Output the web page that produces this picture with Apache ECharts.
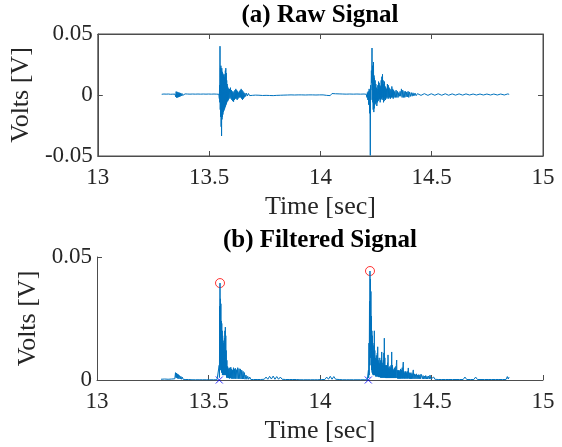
<!DOCTYPE html>
<html>
<head>
<meta charset="utf-8">
<title>Raw and Filtered Signal</title>
<script src="https://cdn.jsdelivr.net/npm/echarts@6/dist/echarts.min.js"></script>
<style>
  html, body { margin: 0; padding: 0; background: #fff; }
  #chart { width: 562px; height: 447px; }
</style>
</head>
<body>
<div id="chart"></div>
<script>
// axis ticks
const timeTicks = [13, 13.5, 14, 14.5, 15];
const rawTicks = [-0.05, 0, 0.05];
const filtTicks = [0, 0.05];

// (a) raw signal [time, volts]
const rawSignal = [
  [13.287,0.0006],[13.292,0.0001],[13.297,0.0008],[13.302,0.0002],[13.307,0.0007],[13.312,0.0000],[13.317,0.0008],[13.322,0.0002],
  [13.327,0.0006],[13.332,0.0001],[13.337,0.0007],[13.342,0.0000],[13.347,0.0007],
  [13.350,-0.0015],[13.352,0.0028],[13.354,-0.0022],[13.356,0.0026],[13.358,-0.002],[13.360,0.0022],[13.362,-0.0018],[13.364,0.002],
  [13.366,-0.0015],[13.368,0.0018],[13.370,-0.0012],[13.372,0.0015],[13.375,-0.0008],[13.378,0.0013],[13.381,-0.0004],[13.384,0.0011],
  [13.388,-0.0002],[13.392,0.0009],
  [13.397,0.0001],[13.402,0.0008],[13.408,0.0001],[13.414,0.0007],[13.420,0.0000],[13.426,0.0008],[13.432,0.0002],[13.438,0.0007],
  [13.444,0.0001],[13.450,0.0008],[13.456,0.0001],[13.462,0.0007],[13.468,0.0000],[13.474,0.0008],[13.480,0.0002],[13.486,0.0007],
  [13.492,0.0001],[13.498,0.0008],[13.504,0.0002],[13.510,0.0007],[13.516,0.0001],[13.522,0.0008],[13.528,0.0002],[13.534,0.0007],
  [13.540,0.0001],[13.544,0.0006],
  [13.546,-0.003],[13.547,0.008],[13.548,-0.006],[13.549,0.040],[13.550,-0.012],[13.551,0.022],[13.552,-0.018],[13.553,0.024],
  [13.554,-0.026],[13.555,0.020],[13.556,-0.0336],[13.557,0.022],[13.558,-0.020],[13.559,0.019],[13.560,-0.018],[13.561,0.018],
  [13.562,-0.016],[13.563,0.017],[13.564,-0.014],[13.565,0.016],[13.566,-0.013],[13.567,0.015],[13.568,-0.012],[13.569,0.014],
  [13.570,-0.011],[13.571,0.017],[13.572,-0.010],[13.573,0.020],[13.574,-0.009],[13.575,0.022],[13.576,-0.008],[13.577,0.018],
  [13.578,-0.007],[13.579,0.012],[13.580,-0.006],[13.581,0.009],[13.582,-0.005],[13.583,0.007],[13.584,-0.005],[13.585,0.006],
  [13.586,-0.004],[13.588,0.005],[13.590,-0.003],
  [13.592,0.005],[13.594,-0.002],[13.596,0.006],[13.598,-0.003],[13.600,0.004],[13.602,-0.004],[13.604,0.003],[13.606,-0.005],
  [13.608,0.002],[13.610,-0.0055],[13.612,0.003],[13.614,-0.004],[13.616,0.004],[13.618,-0.003],[13.620,0.005],[13.622,-0.003],
  [13.624,0.004],[13.626,-0.004],[13.628,0.003],[13.630,-0.003],[13.632,0.002],[13.634,-0.002],[13.636,0.003],[13.638,-0.002],
  [13.640,0.004],[13.642,-0.002],[13.644,0.005],[13.646,-0.003],[13.648,0.004],[13.650,-0.004],[13.652,0.003],[13.654,-0.003],
  [13.656,0.002],[13.658,-0.002],[13.661,0.0015],[13.664,-0.0012],[13.668,0.0015],[13.672,-0.0008],[13.677,0.0012],[13.682,-0.0005],
  [13.688,0.001],[13.694,-0.0003],[13.700,0.0009],
  [13.708,-0.0001],[13.716,0.0009],[13.724,-0.0002],[13.732,0.0010],[13.740,-0.0004],[13.748,0.0011],[13.756,-0.0003],[13.764,0.0010],
  [13.772,-0.0004],[13.780,0.0012],[13.788,-0.0005],[13.796,0.0011],[13.804,-0.0003],[13.812,0.0010],[13.820,-0.0002],[13.828,0.0009],
  [13.836,-0.0001],[13.844,0.0008],[13.852,0.0000],[13.860,0.0008],[13.868,0.0001],[13.876,0.0008],[13.884,0.0000],[13.892,0.0007],
  [13.900,0.0001],[13.908,0.0008],[13.916,0.0001],[13.924,0.0007],[13.932,0.0000],[13.940,0.0008],[13.948,0.0001],[13.956,0.0007],
  [13.964,0.0001],[13.972,0.0008],[13.980,0.0000],[13.988,0.0007],[13.996,0.0001],[14.004,0.0008],[14.012,0.0001],[14.020,0.0008],
  [14.028,-0.0003],[14.036,0.0011],[14.044,-0.0005],[14.052,0.0012],[14.060,-0.0004],[14.068,0.0010],[14.076,-0.0002],[14.084,0.0009],
  [14.092,0.0001],[14.100,0.0008],[14.108,0.0001],[14.116,0.0007],[14.124,0.0000],[14.132,0.0008],[14.140,0.0001],[14.148,0.0007],
  [14.156,0.0001],[14.164,0.0008],[14.172,0.0000],[14.180,0.0007],[14.188,0.0001],[14.196,0.0008],[14.202,0.0001],
  [14.206,0.0006],[14.209,-0.002],[14.211,0.002],[14.213,-0.004],[14.215,0.003],[14.217,-0.008],[14.219,0.005],[14.221,-0.015],
  [14.2225,0.004],[14.2242,-0.0495],[14.2255,0.008],[14.227,-0.004],[14.229,0.020],[14.2305,0.010],[14.2318,0.0385],[14.233,0.004],
  [14.234,0.024],[14.235,-0.006],[14.236,0.018],[14.237,-0.012],[14.2385,0.027],[14.240,-0.014],[14.241,0.016],[14.242,-0.011],
  [14.243,0.014],[14.2445,-0.008],[14.246,0.012],[14.2475,-0.007],[14.249,0.009],[14.2505,-0.006],[14.252,0.006],[14.2535,-0.009],
  [14.255,0.005],[14.2565,-0.006],[14.258,0.008],[14.2595,-0.005],[14.261,0.011],[14.2625,-0.004],[14.264,0.010],[14.2655,-0.003],
  [14.267,0.008],[14.2685,-0.006],[14.270,0.007],[14.2715,-0.004],[14.273,0.012],[14.2745,-0.003],[14.276,0.015],[14.2775,-0.002],
  [14.279,0.017],[14.2805,-0.004],[14.282,0.012],[14.2835,-0.006],[14.285,0.009],[14.2865,-0.005],[14.288,0.011],[14.2895,-0.003],
  [14.291,0.007],[14.2925,-0.004],[14.294,0.006],[14.2955,-0.002],[14.297,0.005],[14.299,-0.003],[14.301,0.009],[14.303,-0.002],
  [14.305,0.008],[14.307,-0.003],[14.309,0.006],[14.311,-0.002],[14.313,0.005],[14.315,-0.003],[14.317,0.004],[14.319,-0.002],
  [14.321,0.007],[14.323,-0.002],[14.325,0.005],[14.327,-0.003],[14.329,0.004],[14.331,-0.002],[14.334,0.003],[14.337,-0.002],
  [14.340,0.004],[14.343,-0.002],[14.346,0.003],[14.349,-0.002],[14.352,0.002],[14.355,-0.001],[14.358,0.003],[14.361,-0.001],
  [14.364,0.005],[14.367,-0.002],[14.370,0.004],[14.373,-0.002],[14.376,0.003],[14.379,-0.002],[14.382,0.003],[14.385,-0.0015],
  [14.388,0.0025],[14.391,-0.0015],[14.394,0.003],[14.397,-0.002],[14.400,0.0025],[14.404,-0.0012],[14.408,0.002],[14.412,-0.001],
  [14.416,0.0018],[14.420,-0.0008],[14.425,0.0016],[14.430,-0.0006],
  [14.436,0.0011],[14.444,0.0004],[14.452,-0.0003],[14.460,0.0004],[14.467,0.0011],[14.475,0.0004],[14.483,-0.0003],[14.491,0.0004],
  [14.498,0.0010],[14.506,0.0004],[14.514,-0.0002],[14.522,0.0004],[14.529,0.0010],[14.537,0.0004],[14.545,-0.0002],[14.553,0.0004],
  [14.561,0.0010],[14.569,0.0004],[14.576,-0.0002],[14.584,0.0004],[14.592,0.0009],[14.600,0.0004],[14.607,-0.0001],[14.615,0.0004],
  [14.623,0.0009],[14.631,0.0004],[14.639,-0.0001],[14.646,0.0004],[14.654,0.0009],[14.662,0.0004],[14.670,0.0000],[14.678,0.0004],
  [14.686,0.0008],[14.693,0.0004],[14.701,0.0000],[14.709,0.0004],[14.717,0.0008],[14.725,0.0004],[14.732,0.0000],[14.740,0.0004],
  [14.748,0.0008],[14.756,0.0004],[14.764,0.0000],[14.771,0.0004],[14.779,0.0008],[14.787,0.0004],[14.795,0.0000],[14.803,0.0004],
  [14.810,0.0008],[14.818,0.0003],[14.826,0.0000],[14.834,0.0004],[14.842,0.0009],[14.848,0.0005]
];

// (b) filtered signal [time, volts]
const filteredSignal = [
  [13.287,0.0003],[13.295,0.0001],[13.303,0.0004],[13.311,0.0001],[13.319,0.0003],[13.327,0.0001],[13.335,0.0004],[13.343,0.0001],
  [13.349,0.0005],
  [13.350,0.0005],[13.352,0.0030],[13.354,0.0010],[13.356,0.0028],[13.358,0.0008],[13.360,0.0025],[13.362,0.0006],[13.365,0.0022],
  [13.367,0.0005],[13.370,0.0018],[13.373,0.0004],[13.376,0.0015],[13.379,0.0003],[13.382,0.0012],[13.386,0.0003],[13.390,0.0010],
  [13.395,0.0002],[13.400,0.0006],[13.410,0.0002],
  [13.418,0.0004],[13.426,0.0001],[13.434,0.0003],[13.442,0.0001],[13.450,0.0004],[13.458,0.0001],[13.466,0.0003],[13.474,0.0001],
  [13.482,0.0004],[13.490,0.0001],[13.498,0.0003],[13.506,0.0001],[13.514,0.0004],[13.522,0.0001],[13.530,0.0003],[13.538,0.0001],
  [13.545,0.0003],
  [13.5470,0.0003],[13.5480,0.0060],[13.5490,0.0010],[13.5500,0.0300],[13.5508,0.0050],[13.5516,0.0394],[13.5525,0.0080],[13.5535,0.0330],
  [13.5545,0.0040],[13.5555,0.0310],[13.5565,0.0060],[13.5575,0.0240],[13.5585,0.0030],[13.5595,0.0230],[13.5605,0.0040],[13.5615,0.0200],
  [13.5625,0.0020],[13.5635,0.0180],[13.5645,0.0030],[13.5655,0.0160],[13.5665,0.0020],[13.5675,0.0150],[13.5685,0.0020],[13.5695,0.0140],
  [13.5705,0.0030],[13.5715,0.0170],[13.5725,0.0020],[13.5735,0.0200],[13.5745,0.0030],[13.5755,0.0215],[13.5765,0.0020],[13.5775,0.0180],
  [13.5785,0.0020],[13.5795,0.0120],[13.5810,0.0010],[13.5825,0.0080],[13.5840,0.0010],[13.5855,0.0055],[13.5870,0.0008],[13.5885,0.0045],
  [13.590,0.0008],[13.592,0.0050],[13.594,0.0006],[13.596,0.0048],[13.598,0.0008],[13.600,0.0052],[13.602,0.0006],[13.604,0.0045],
  [13.606,0.0005],[13.608,0.0040],[13.610,0.0006],[13.612,0.0050],[13.614,0.0005],[13.616,0.0044],[13.618,0.0006],[13.620,0.0048],
  [13.622,0.0005],[13.625,0.0042],[13.628,0.0005],[13.631,0.0050],[13.634,0.0005],[13.637,0.0046],[13.640,0.0005],[13.643,0.0045],
  [13.646,0.0004],[13.649,0.0040],[13.652,0.0004],[13.655,0.0035],[13.658,0.0004],[13.661,0.0030],[13.664,0.0003],[13.668,0.0020],
  [13.672,0.0003],[13.676,0.0015],[13.680,0.0003],[13.685,0.0012],[13.690,0.0002],[13.696,0.0008],[13.702,0.0002],
  [13.710,0.0006],[13.718,0.0002],[13.726,0.0008],[13.734,0.0002],[13.742,0.0010],[13.750,0.0003],[13.758,0.0012],[13.766,0.0003],
  [13.774,0.0015],[13.782,0.0004],[13.790,0.0016],[13.798,0.0003],[13.806,0.0014],[13.814,0.0003],[13.822,0.0012],[13.830,0.0003],
  [13.838,0.0010],[13.846,0.0002],[13.854,0.0007],[13.862,0.0002],[13.870,0.0008],[13.878,0.0002],[13.886,0.0006],[13.894,0.0002],
  [13.902,0.0007],[13.910,0.0001],[13.918,0.0005],[13.926,0.0001],[13.934,0.0006],[13.942,0.0001],[13.950,0.0005],[13.958,0.0001],
  [13.966,0.0004],[13.974,0.0001],[13.982,0.0005],[13.990,0.0001],[13.998,0.0006],[14.006,0.0002],[14.014,0.0008],[14.022,0.0002],
  [14.030,0.0012],[14.038,0.0003],[14.046,0.0015],[14.054,0.0003],[14.062,0.0014],[14.070,0.0003],[14.078,0.0010],[14.086,0.0002],
  [14.094,0.0006],[14.102,0.0001],[14.110,0.0004],[14.118,0.0001],[14.126,0.0005],[14.134,0.0001],[14.142,0.0004],[14.150,0.0001],
  [14.158,0.0005],[14.166,0.0001],[14.174,0.0004],[14.182,0.0001],[14.190,0.0005],[14.198,0.0001],[14.206,0.0004],[14.212,0.0001],
  [14.2160,0.0003],[14.2172,0.0040],[14.2182,0.0008],[14.2196,0.0150],[14.2206,0.0020],[14.2220,0.0320],[14.2230,0.0060],[14.2242,0.0443],
  [14.2252,0.0120],[14.2262,0.0410],[14.2272,0.0090],[14.2284,0.0360],[14.2294,0.0060],[14.2306,0.0260],[14.2316,0.0040],[14.2328,0.0200],
  [14.2338,0.0030],[14.2350,0.0180],[14.2360,0.0025],[14.2372,0.0150],[14.2382,0.0020],[14.2394,0.0120],[14.2404,0.0020],[14.2416,0.0140],
  [14.2426,0.0020],[14.2436,0.0200],[14.2446,0.0020],[14.2458,0.0120],[14.2468,0.0020],[14.2480,0.0090],[14.2490,0.0015],[14.2502,0.0080],
  [14.2512,0.0015],[14.2524,0.0100],[14.2534,0.0015],[14.2546,0.0085],[14.2556,0.0015],[14.2568,0.0110],[14.2578,0.0015],[14.2588,0.0135],
  [14.2598,0.0015],[14.2610,0.0080],[14.2620,0.0012],[14.2632,0.0070],[14.2642,0.0012],[14.2654,0.0090],[14.2664,0.0012],[14.2676,0.0065],
  [14.2686,0.0012],[14.2698,0.0070],[14.2710,0.0010],[14.2722,0.0080],[14.2734,0.0010],[14.2746,0.0090],[14.2758,0.0010],[14.2768,0.0114],
  [14.2780,0.0010],[14.2792,0.0060],[14.2804,0.0010],[14.2816,0.0070],[14.2828,0.0010],[14.2840,0.0080],[14.2852,0.0010],[14.2864,0.0110],
  [14.2874,0.0010],[14.2884,0.0170],[14.2896,0.0010],[14.2908,0.0090],[14.2920,0.0010],[14.2932,0.0060],[14.2944,0.0008],[14.2956,0.0050],
  [14.2968,0.0008],[14.2980,0.0060],[14.2992,0.0008],[14.3004,0.0055],[14.3016,0.0008],[14.3028,0.0070],[14.3040,0.0008],[14.3050,0.0102],
  [14.3062,0.0008],[14.3074,0.0050],[14.3088,0.0008],[14.3102,0.0045],[14.3116,0.0008],[14.3130,0.0055],[14.3144,0.0008],[14.3158,0.0050],
  [14.3172,0.0008],[14.3186,0.0060],[14.3200,0.0008],[14.3215,0.0114],[14.3230,0.0008],[14.3245,0.0060],[14.3260,0.0008],[14.3275,0.0045],
  [14.3290,0.0008],[14.3305,0.0040],[14.3320,0.0008],[14.3335,0.0050],[14.3350,0.0008],[14.3365,0.0045],[14.3380,0.0008],[14.3395,0.0055],
  [14.3410,0.0008],[14.3425,0.0065],[14.3439,0.0081],[14.3452,0.0008],[14.3467,0.0040],[14.3482,0.0006],[14.3497,0.0035],[14.3512,0.0006],
  [14.3527,0.0040],[14.3542,0.0006],[14.3557,0.0035],[14.3572,0.0006],[14.3587,0.0040],[14.3602,0.0006],[14.3617,0.0045],[14.3632,0.0006],
  [14.3650,0.0040],[14.3668,0.0006],[14.3686,0.0050],[14.3704,0.0006],[14.3720,0.0060],[14.3735,0.0073],[14.3750,0.0006],[14.3768,0.0035],
  [14.3786,0.0006],[14.3804,0.0030],[14.3822,0.0006],[14.3840,0.0035],[14.3858,0.0006],[14.3876,0.0030],[14.3894,0.0006],[14.3912,0.0035],
  [14.3930,0.0006],[14.3960,0.0049],[14.3978,0.0006],[14.4000,0.0030],[14.4020,0.0005],[14.4040,0.0028],[14.4060,0.0005],[14.4080,0.0030],
  [14.4100,0.0005],[14.4120,0.0025],[14.4140,0.0005],[14.4160,0.0030],[14.4184,0.0041],[14.4205,0.0005],[14.4230,0.0025],[14.4255,0.0005],
  [14.4280,0.0022],[14.4305,0.0005],[14.4330,0.0025],[14.4355,0.0005],[14.4380,0.0020],[14.4405,0.0005],[14.4430,0.0022],[14.4455,0.0005],
  [14.4480,0.0020],[14.4505,0.0005],[14.4530,0.0024],[14.4560,0.0028],[14.4590,0.0005],[14.4620,0.0018],[14.4650,0.0004],[14.4680,0.0016],
  [14.4710,0.0004],[14.4740,0.0018],[14.4770,0.0004],[14.4800,0.0015],[14.4830,0.0004],[14.4860,0.0016],[14.4900,0.0004],[14.4933,0.0020],
  [14.4970,0.0004],[14.5010,0.0012],[14.5050,0.0003],[14.5100,0.0012],[14.5150,0.0003],
  [14.522,0.0009],[14.530,0.0002],[14.538,0.0010],[14.546,0.0002],[14.554,0.0008],[14.562,0.0002],[14.570,0.0009],[14.578,0.0002],
  [14.586,0.0007],[14.594,0.0002],[14.602,0.0008],[14.610,0.0002],[14.618,0.0007],[14.626,0.0002],[14.634,0.0006],[14.642,0.0002],
  [14.650,0.0012],[14.658,0.0002],[14.666,0.0007],[14.674,0.0002],[14.682,0.0006],[14.690,0.0002],[14.698,0.0012],[14.706,0.0002],
  [14.714,0.0006],[14.722,0.0002],[14.730,0.0005],[14.738,0.0002],[14.746,0.0006],[14.754,0.0002],[14.762,0.0005],[14.770,0.0002],
  [14.778,0.0010],[14.786,0.0002],[14.794,0.0005],[14.802,0.0002],[14.810,0.0006],[14.818,0.0002],[14.826,0.0005],[14.834,0.0002],
  [14.840,0.0014],[14.844,0.0004],[14.848,0.0012]
];

// detected peaks (red o) and onsets (blue x)
const peakPoints = [[13.5516, 0.0394], [14.2242, 0.0443]];
const onsetPoints = [[13.5484, 0], [14.2166, 0]];

const font = 'Liberation Serif';
const axisColor = '#4d4d4d';
const textColor = '#262626';
const lineColor = '#0072BD';

function timeAxis(grid, pos, withLabels) {
  return {
    type: 'value', gridIndex: grid, position: pos,
    min: timeTicks[0], max: timeTicks[timeTicks.length - 1], interval: timeTicks[1] - timeTicks[0],
    axisLine: { show: true, onZero: false, lineStyle: { color: axisColor, width: 1 } },
    axisTick: { show: true, inside: true, length: 5, lineStyle: { color: axisColor } },
    axisLabel: { show: withLabels, fontFamily: font, fontSize: 23, color: textColor, margin: 10 },
    splitLine: { show: false },
    name: withLabels ? 'Time [sec]' : '', nameLocation: 'middle', nameGap: 38,
    nameTextStyle: { fontFamily: font, fontSize: 26, color: textColor }
  };
}

function voltAxis(grid, pos, ticks, withLabels) {
  return {
    type: 'value', gridIndex: grid, position: pos,
    min: ticks[0], max: ticks[ticks.length - 1], interval: ticks[1] - ticks[0],
    axisLine: { show: true, onZero: false, lineStyle: { color: axisColor, width: 1 } },
    axisTick: { show: true, inside: true, length: 5, lineStyle: { color: axisColor } },
    axisLabel: { show: withLabels, fontFamily: font, fontSize: 23, color: textColor, margin: 5 },
    splitLine: { show: false },
    name: withLabels ? 'Volts [V]' : '', nameLocation: 'middle', nameRotate: 90, nameGap: 54,
    nameTextStyle: { fontFamily: font, fontSize: 26, color: textColor }
  };
}

var myChart = echarts.init(document.getElementById('chart'));
var option = {
  animation: false,
  backgroundColor: '#fff',
  graphic: [
    { type: 'text', x: 320, y: 16, style: { text: '(a) Raw Signal', font: 'bold 25px "Liberation Serif"', fill: '#000', align: 'center', verticalAlign: 'middle' } },
    { type: 'text', x: 320, y: 241, style: { text: '(b) Filtered Signal', font: 'bold 25px "Liberation Serif"', fill: '#000', align: 'center', verticalAlign: 'middle' } }
  ],
  grid: [
    { left: 97, top: 34, width: 446, height: 122, show: true, borderColor: axisColor, borderWidth: 1, backgroundColor: 'transparent' },
    { left: 97, top: 257, width: 446, height: 123 }
  ],
  xAxis: [
    timeAxis(0, 'bottom', true),
    timeAxis(0, 'top', false),
    timeAxis(1, 'bottom', true)
  ],
  yAxis: [
    voltAxis(0, 'left', rawTicks, true),
    voltAxis(0, 'right', rawTicks, false),
    voltAxis(1, 'left', filtTicks, true)
  ],
  series: [
    {
      type: 'line', xAxisIndex: 0, yAxisIndex: 0, data: rawSignal,
      showSymbol: false, lineStyle: { color: lineColor, width: 1 }
    },
    {
      type: 'line', xAxisIndex: 2, yAxisIndex: 2, data: filteredSignal,
      showSymbol: false, lineStyle: { color: lineColor, width: 1 }
    },
    {
      type: 'scatter', xAxisIndex: 2, yAxisIndex: 2, data: peakPoints,
      symbol: 'circle', symbolSize: 9,
      itemStyle: { color: 'rgba(0,0,0,0)', borderColor: '#FF0000', borderWidth: 1 }
    },
    {
      type: 'scatter', xAxisIndex: 2, yAxisIndex: 2, data: onsetPoints,
      symbol: 'path://M0,0L10,10M10,0L0,10', symbolSize: 7,
      itemStyle: { color: 'none', borderColor: '#0000FF', borderWidth: 1 }
    }
  ]
};
myChart.setOption(option);
window.onresize = function () { myChart.resize(); };
</script>
</body>
</html>
